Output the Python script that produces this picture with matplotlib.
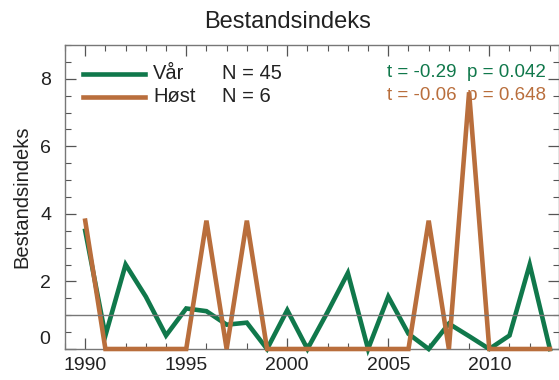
import matplotlib
matplotlib.use('Agg')
import matplotlib.pyplot as plt
from matplotlib.lines import Line2D
from matplotlib.ticker import MultipleLocator, FuncFormatter

plt.rcParams['font.family'] = ['Liberation Sans', 'DejaVu Sans']

years = list(range(1990, 2014))
var_values = [3.5, 0.4, 2.5, 1.55, 0.4, 1.2, 1.12, 0.72, 0.78, 0.0, 1.15, 0.0,
              1.1, 2.25, 0.0, 1.55, 0.45, 0.0, 0.75, 0.38, 0.0, 0.4, 2.5, 0.0]
host_values = [3.8, 0, 0, 0, 0, 0, 3.8, 0, 3.8, 0, 0, 0,
               0, 0, 0, 0, 0, 3.8, 0, 7.6, 0, 0, 0, 0]
ref_level = 1.0

series_labels = ['Vår', 'Høst']
n_labels = ['N = 45', 'N = 6']
stat_labels = ['t = -0.29  p = 0.042', 't = -0.06  p = 0.648']

green = '#10784b'
orange = '#b96e3c'

fig = plt.figure(figsize=(5.59, 3.8), dpi=100)
ax = fig.add_axes([65/559, 31/380, 494/559, 304/380])

ax.plot(years, var_values, color=green, lw=3.3, solid_joinstyle='miter', clip_on=False, zorder=3)
ax.plot(years, host_values, color=orange, lw=3.3, solid_joinstyle='miter', clip_on=False, zorder=4)
ax.axhline(ref_level, color='#777777', lw=1.0, zorder=5)

ax.set_xlim(1989, 2013.45)
ax.set_ylim(0, 9)
ax.xaxis.set_major_locator(MultipleLocator(5))
ax.xaxis.set_minor_locator(MultipleLocator(1))
ax.yaxis.set_major_locator(MultipleLocator(2))
ax.yaxis.set_minor_locator(MultipleLocator(0.5))
# the zero label sits a bit higher in the original, drawn separately below
ax.yaxis.set_major_formatter(FuncFormatter(lambda v, p: '' if v == 0 else '%d' % v))
ax.tick_params(which='both', direction='in', top=True, right=True, colors='#555555',
               labelcolor='#222222', labelsize=14)
ax.tick_params(which='major', length=8, width=0.9)
ax.tick_params(which='minor', length=4, width=0.8)
ax.tick_params(axis='x', pad=6)
ax.tick_params(axis='y', pad=10)
for s in ax.spines.values():
    s.set_color('#777777')
    s.set_linewidth(1.0)

ax.text(-0.031, 0.03, '0', transform=ax.transAxes, fontsize=14, ha='right',
        va='center', color='#222222')

fig.text(288/559, 1 - 22/380, 'Bestandsindeks', fontsize=17, color='#222222',
         ha='center', va='center')
ax.set_ylabel('Bestandsindeks', fontsize=14.5, color='#222222', labelpad=6)

# legend drawn by hand
colors = [green, orange]
for i in range(2):
    yy = 0.905 - i * 0.076
    ax.add_line(Line2D([0.037, 0.162], [yy, yy], transform=ax.transAxes,
                       color=colors[i], lw=3.3, clip_on=False))
    ax.text(0.178, yy, series_labels[i], transform=ax.transAxes, fontsize=14.5,
            va='center', ha='left', color='#222222')
    ax.text(0.318, yy, n_labels[i], transform=ax.transAxes, fontsize=14.5,
            va='center', ha='left', color='#222222')
    ax.text(0.973, yy + 0.005, stat_labels[i], transform=ax.transAxes, fontsize=13.5,
            va='center', ha='right', color=colors[i])

fig.savefig('out.png', dpi=100)
